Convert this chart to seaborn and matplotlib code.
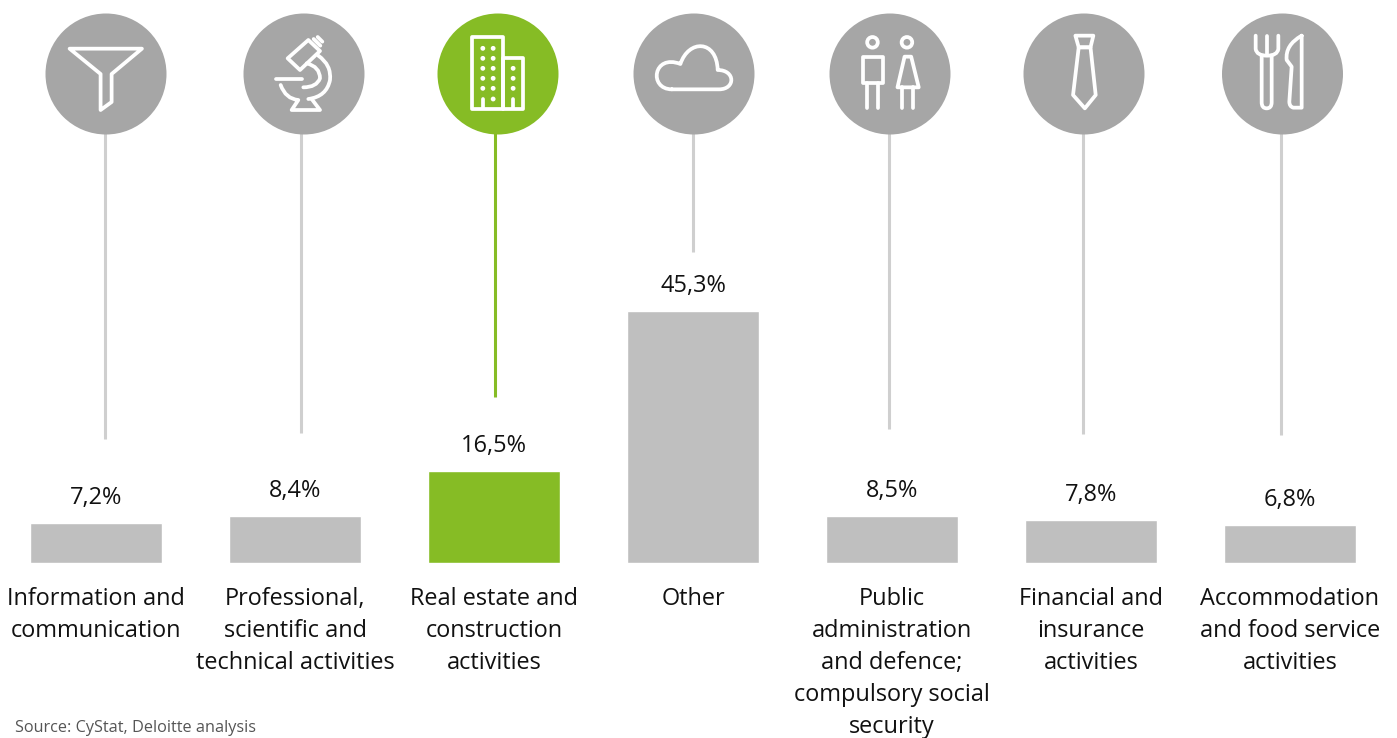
import matplotlib
matplotlib.use("Agg")
import matplotlib.pyplot as plt
from matplotlib.patches import Circle, Ellipse, PathPatch, Polygon
from matplotlib.path import Path
import pandas as pd
import seaborn as sns

categories = ["Information and\ncommunication",
              "Professional,\nscientific and\ntechnical activities",
              "Real estate and\nconstruction\nactivities",
              "Other",
              "Public\nadministration\nand defence;\ncompulsory social\nsecurity",
              "Financial and\ninsurance\nactivities",
              "Accommodation\nand food service\nactivities"]
values = [7.2, 8.4, 16.5, 45.3, 8.5, 7.8, 6.8]
value_labels = ["7,2%", "8,4%", "16,5%", "45,3%", "8,5%", "7,8%", "6,8%"]
highlight = [False, False, True, False, False, False, False]

GREY, GREEN = "#bfbfbf", "#86bc25"
CIRCLE, STEM = "#a6a6a6", "#cfcfcf"
W, H = 1397, 738

sns.set_theme(style="white")
plt.rcParams["font.family"] = ["Open Sans", "DejaVu Sans"]

fig = plt.figure(figsize=(W / 100, H / 100), dpi=100, facecolor="white")
ax = fig.add_axes([0, (H - 563) / H, 1, 563 / H])
df = pd.DataFrame({"category": categories, "value": values,
                   "group": ["hi" if h else "lo" for h in highlight]})
sns.barplot(data=df, x="category", y="value", hue="group",
            palette={"hi": GREEN, "lo": GREY}, dodge=False, legend=False,
            width=132 / 199, saturation=1, ax=ax)
ax.set_xlim(-96 / 199, (W - 96) / 199)
ax.set_ylim(0, 563 / 5.56)
ax.set_xlabel("")
ax.set_ylabel("")
ax.yaxis.set_visible(False)
sns.despine(ax=ax, left=True, bottom=True)
ax.tick_params(axis="x", length=0, pad=17.3)
for t in ax.get_xticklabels():
    t.set_fontsize(16.9)
    t.set_color("#111111")
    t.set_linespacing(1.44)
    t.set_ha("center")
    t.set_va("top")
for i, (v, lab) in enumerate(zip(values, value_labels)):
    ax.annotate(lab, (i, v), xytext=(0, 18), textcoords="offset points",
                ha="center", va="center", fontsize=16.9, color="#111111")
fig.text(15 / W, 1 - 728 / H, "Source: CyStat, Deloitte analysis",
         fontsize=11.7, color="#555555", va="center", ha="left")

# Decorative layer in pixel coordinates
ov = fig.add_axes([0, 0, 1, 1], facecolor="none")
ov.set_xlim(0, W)
ov.set_ylim(H, 0)
ov.axis("off")

circle_x = [106, 304, 498, 694, 890, 1084, 1282.5]
stem_x = [105, 301, 495, 693, 889, 1083, 1281]
stem_end = [439, 433, 397, 252, 429, 434, 435]
for cx, sx, se, h in zip(circle_x, stem_x, stem_end, highlight):
    ov.plot([sx, sx], [130, se], color=GREEN if h else STEM, lw=2.2,
            solid_capstyle="butt", zorder=1)
    ov.add_patch(Ellipse((cx, 74), 121, 121, fc=GREEN if h else CIRCLE, ec="none", zorder=2))

LW = 2.7
def z1(x, y): return (30 + x / 2.904, y / 3)
def z2(x, y): return (620 + x / 2.119, y / 3)
def zf(x, y): return (1240 + x / 3, 25 + y / 3)
def zm(x, y): return (265 + x / 3, 25 + y / 3)
def poly(z, pts, closed=True):
    p = [z(*q) for q in pts]
    ov.add_patch(Polygon(p, closed=closed, fill=False, ec="white", lw=LW,
                         joinstyle="round", capstyle="round", zorder=3))
def curve(z, start, *segs):
    verts, codes = [z(*start)], [Path.MOVETO]
    for s in segs:
        if len(s) == 1:
            verts += [z(*s[0])]; codes += [Path.LINETO]
        elif len(s) == 2:
            verts += [z(*s[0]), z(*s[1])]; codes += [Path.CURVE3] * 2
        else:
            verts += [z(*q) for q in s]; codes += [Path.CURVE4] * 3
    ov.add_patch(PathPatch(Path(verts, codes), fill=False, ec="white", lw=LW,
                           joinstyle="round", capstyle="round", zorder=3))
def dot(z, x, y, r=2.4):
    ov.add_patch(Circle(z(x, y), r, fc="white", ec="none", zorder=3))

# funnel
poly(z1, [(115, 146), (325, 146), (237, 222), (237, 306), (205, 330), (205, 222)])
# microscope
poly(zm, [(130, 45), (165, 78), (105, 135), (68, 100)])
curve(zm, (146, 42), ((166, 62),))
curve(zm, (158, 36), ((172, 50),))
curve(zm, (160, 92), ((200, 120), (195, 165)), ((185, 215), (130, 222)))
curve(zm, (125, 115), ((165, 125), (165, 160)), ((155, 187), (115, 187)))
curve(zm, (32, 163), ((110, 163),))
curve(zm, (47, 180), ((62, 222), (100, 225)), ((80, 255),), ((165, 255),), ((140, 222),))
# building
poly(z1, [(1285, 112), (1375, 112), (1375, 328), (1285, 328)])
poly(z1, [(1375, 175), (1433, 175), (1433, 328), (1375, 328)])
for yy in [145, 175, 205, 235, 265]:
    dot(z1, 1315, yy); dot(z1, 1345, yy)
dot(z1, 1345, 297)
for yy in [205, 235, 265]:
    dot(z1, 1403, yy)
curve(z1, (1315, 325), ((1315, 296),))
curve(z1, (1403, 325), ((1403, 296),))
# cloud
curve(z2, (110, 268), ((210, 268),),
      ((245, 268), (245, 210), (207, 210)),
      ((205, 118), (145, 118), (128, 192)),
      ((70, 160), (60, 268), (110, 268)))
# people
for hx in (535, 608):
    ov.add_patch(Circle(z2(hx, 127), 5.3, fill=False, ec="white", lw=LW, zorder=3))
poly(z2, [(514, 170), (558, 170), (558, 250), (514, 250)])
curve(z2, (524, 250), ((524, 325),))
curve(z2, (547, 250), ((547, 325),))
poly(z2, [(603, 170), (617, 170), (633, 262), (588, 262)])
curve(z2, (598, 262), ((598, 325),))
curve(z2, (621, 262), ((621, 325),))
# tie
poly(z2, [(965, 107), (1003, 107), (997, 142), (972, 142)])
poly(z2, [(972, 142), (997, 142), (1008, 285), (985, 325), (960, 285)])
# cutlery
curve(zf, (47, 32), ((47, 72),), ((50, 92), (81, 92)), ((112, 92), (115, 72)), ((115, 32),))
curve(zf, (81, 32), ((81, 90),))
curve(zf, (65, 92), ((65, 232),), ((65, 250), (80, 250)), ((95, 250), (95, 232)), ((95, 92),))
curve(zf, (185, 32), ((185, 248),), ((160, 248),), ((148, 245), (148, 230)),
      ((155, 125),), ((140, 105),), ((135, 60), (185, 32)))

fig.savefig("out.png", dpi=100)
